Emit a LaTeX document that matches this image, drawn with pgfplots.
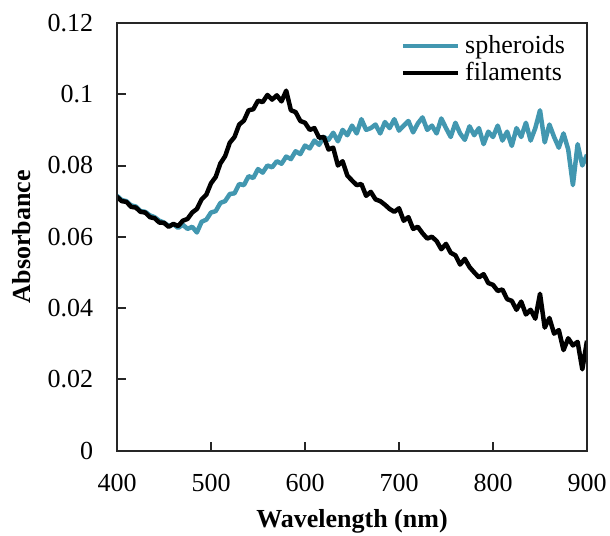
\documentclass[border=0pt]{standalone}
\usepackage{fontspec}
\setmainfont{Liberation Serif}
\usepackage{pgfplots}
\pgfplotsset{compat=1.18}
\definecolor{spheroidcol}{HTML}{4297B0}
\definecolor{axiscol}{HTML}{262626}

\pgfplotstableread{
x y
400 .0715
405 .0703
410 .0700
415 .0688
420 .0685
425 .0672
430 .0670
435 .0660
440 .0655
445 .0645
450 .0640
455 .0630
460 .0635
465 .0625
470 .0634
475 .0622
480 .0628
485 .0612
490 .0642
495 .0648
500 .0668
505 .0672
510 .0695
515 .0700
520 .0720
525 .0722
530 .0748
535 .0745
540 .0770
545 .0765
550 .0790
555 .0780
560 .0800
565 .0795
570 .0812
575 .0805
580 .0825
585 .0818
590 .0840
595 .0832
600 .0856
605 .0848
610 .0870
615 .0858
620 .0880
625 .0872
630 .0892
635 .0868
640 .0900
645 .0885
650 .0912
655 .0890
660 .0930
665 .0900
670 .0905
675 .0915
680 .0890
685 .0922
690 .0905
695 .0930
700 .0898
705 .0912
710 .0925
715 .0893
720 .0918
725 .0935
730 .0900
735 .0912
740 .0890
745 .0932
750 .0905
755 .0880
760 .0920
765 .0890
770 .0872
775 .0910
780 .0885
785 .0905
790 .0860
795 .0895
800 .0880
805 .0912
810 .0870
815 .0895
820 .0855
825 .0905
830 .0880
835 .0920
840 .0870
845 .0905
850 .0955
855 .0865
860 .0915
865 .0880
870 .0850
875 .0890
880 .0845
885 .0745
890 .0860
895 .0800
900 .0830
}\spheroids

\pgfplotstableread{
x y
400 .0712
405 .0700
410 .0698
415 .0684
420 .0682
425 .0670
430 .0668
435 .0655
440 .0652
445 .0640
450 .0639
455 .0628
460 .0636
465 .0630
470 .0645
475 .0650
480 .0668
485 .0678
490 .0705
495 .0718
500 .0750
505 .0768
510 .0806
515 .0826
520 .0864
525 .0880
530 .0915
535 .0926
540 .0955
545 .0958
550 .0982
555 .0978
560 .0998
565 .0985
570 .0997
575 .0980
580 .1010
585 .0955
590 .0950
595 .0925
600 .0920
605 .0900
610 .0905
615 .0878
620 .0880
625 .0845
630 .0850
635 .0800
640 .0812
645 .0772
650 .0758
655 .0745
660 .0748
665 .0715
670 .0726
675 .0705
680 .0700
685 .0690
690 .0678
695 .0670
700 .0680
705 .0645
710 .0655
715 .0622
720 .0628
725 .0610
730 .0595
735 .0600
740 .0588
745 .0565
750 .0580
755 .0555
760 .0548
765 .0522
770 .0538
775 .0515
780 .0500
785 .0486
790 .0495
795 .0470
800 .0465
805 .0448
810 .0452
815 .0425
820 .0420
825 .0395
830 .0418
835 .0382
840 .0395
845 .0370
850 .0440
855 .0345
860 .0372
865 .0328
870 .0338
875 .0282
880 .0315
885 .0295
890 .0305
895 .0228
900 .0308
}\filaments

\begin{document}
\begin{tikzpicture}
\begin{axis}[
    scale only axis,
    width=188pt,
    height=171pt,
    xmin=400, xmax=900,
    ymin=0, ymax=0.12,
    xtick={400,500,...,900},
    ytick={0,0.02,0.04,0.06,0.08,0.1,0.12},
    yticklabels={0,0.02,0.04,0.06,0.08,0.1,0.12},
    /pgf/number format/assume math mode=true,
    xtick pos=bottom,
    ytick pos=left,
    tick align=inside,
    major tick length=3.6pt,
    major tick style={draw=axiscol, line width=0.8pt},
    axis line style={draw=axiscol, line width=0.8pt},
    ticklabel style={font=\fontsize{10.4}{12}\selectfont},
    xticklabel style={yshift=-6pt},
    yticklabel style={xshift=-6pt},
    xlabel={\textbf{Wavelength (nm)}},
    ylabel={\textbf{Absorbance}},
    label style={font=\fontsize{10.4}{12}\selectfont},
    xlabel style={yshift=0pt},
    legend style={draw=none, fill=none, at={(rel axis cs:0.97,0.99)}, anchor=north east,
        font=\fontsize{10.4}{12}\selectfont, row sep=-2pt, inner sep=1pt},
    legend cell align=left,
    legend image code/.code={\draw[#1] (0pt,0pt) -- (22pt,0pt);},
]
\addplot[spheroidcol, line width=1.8pt, line join=round] table[x=x,y=y] {\spheroids};
\addlegendentry{spheroids}
\addplot[black, line width=1.8pt, line join=round] table[x=x,y=y] {\filaments};
\addlegendentry{filaments}
\coordinate (bl) at (rel axis cs:0,0);
\coordinate (tr) at (rel axis cs:1,1);
\end{axis}
\draw[axiscol, line width=0.8pt] (bl) rectangle (tr);
\pgfresetboundingbox
\useasboundingbox ([xshift=-46.8pt,yshift=-34pt]bl) rectangle ([xshift=9.2pt,yshift=9.2pt]tr);
\end{tikzpicture}
\end{document}
